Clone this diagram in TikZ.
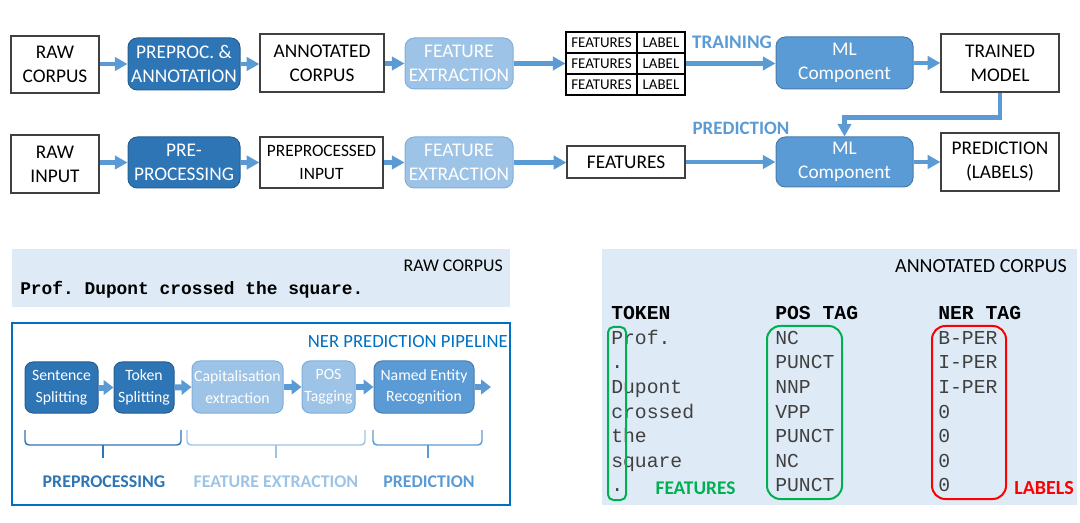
\documentclass[tikz,border=0pt]{standalone}
\usepackage{fontspec}
\setmainfont{Carlito}
\setmonofont{Liberation Mono}
\usetikzlibrary{arrows.meta,calc}
\definecolor{dblue}{HTML}{2E75B6}
\definecolor{mblue}{HTML}{5B9BD5}
\definecolor{lblue}{HTML}{9DC3E6}
\definecolor{pbg}{HTML}{DEEBF7}
\definecolor{nerc}{HTML}{0070C0}
\definecolor{grn}{HTML}{00B050}
\definecolor{txtg}{HTML}{404040}
\newcommand{\fA}{\fontsize{14.5}{18}\selectfont}
\newcommand{\fB}{\fontsize{13}{17}\selectfont}
\newcommand{\fC}{\fontsize{11.8}{16.3}\selectfont}
\newcommand{\fT}{\fontsize{11.2}{13}\selectfont}
\newcommand{\bx}[7]{\node[#1, minimum width={(#5-#3)*0.75pt}, minimum height={(#6-#4)*0.75pt}] (#2) at ({(#3+#5)/2},{(#4+#6)/2}) {#7};}
\tikzset{
  base/.style={align=center, inner sep=0pt, font=\fA},
  wbox/.style={base, draw=black!75, line width=0.9pt, fill=white},
  dbox/.style={base, rounded corners=7pt, fill=dblue, draw=dblue!80!black, line width=0.75pt, text=white},
  lbox/.style={base, rounded corners=7pt, fill=lblue, draw=lblue!75!dblue, line width=0.75pt, text=white},
  mbox/.style={base, rounded corners=7pt, fill=mblue, draw=mblue!80!black, line width=0.75pt, text=white},
  cell/.style={draw=black, line width=0.8pt, inner sep=0pt, font=\fT},
  arr/.style={line width=3.2pt, color=mblue, -{Triangle[length=9.5pt,width=10pt]}},
  parr/.style={line width=4.5pt, color=mblue, -{Triangle[length=7.5pt,width=11pt]}},
  brace/.style={line width=1.1pt, rounded corners=3pt},
  mono/.style={font=\ttfamily\fontsize{14.8}{16}\selectfont, text=txtg, inner sep=0pt, anchor=base west},
  monoh/.style={font=\ttfamily\bfseries\fontsize{14.8}{16}\selectfont, text=black, inner sep=0pt, anchor=base west},
  hilite/.style={line width=1.5pt, rounded corners=#1},
}
\begin{document}
\begin{tikzpicture}[x=0.75pt,y=-0.75pt]
\useasboundingbox (0,0) rectangle (1080,523);
% ---------- top row ----------
\bx{wbox}{rc}{11}{36}{99}{93}{RAW\\CORPUS}
\bx{dbox}{pa}{128}{38}{240}{90}{PREPROC. \&\\ANNOTATION}
\bx{wbox}{ac}{260}{34}{384}{92}{ANNOTATED\\CORPUS}
\bx{lbox}{fe1}{405}{38}{513}{89}{FEATURE\\EXTRACTION}
\bx{cell}{t11}{566}{32}{637}{53}{FEATURES}
\bx{cell}{t12}{637}{32}{685}{53}{LABEL}
\bx{cell}{t21}{566}{53}{637}{74}{FEATURES}
\bx{cell}{t22}{637}{53}{685}{74}{LABEL}
\bx{cell}{t31}{566}{74}{637}{95}{FEATURES}
\bx{cell}{t32}{637}{74}{685}{95}{LABEL}
\bx{mbox}{ml1}{776}{37}{913}{89}{ML\\Component}
\bx{wbox}{tm}{941}{34}{1059}{92}{TRAINED\\MODEL}
% ---------- second row ----------
\bx{wbox}{ri}{11}{135}{99}{193}{RAW\\INPUT}
\bx{dbox}{pp}{128}{137}{240}{188}{PRE-\\PROCESSING}
\bx{wbox,font=\fB}{pi}{260}{137}{383}{188}{PREPROCESSED\\INPUT}
\bx{lbox}{fe2}{405}{137}{513}{188}{FEATURE\\EXTRACTION}
\bx{wbox}{feat}{567}{146}{685}{178}{FEATURES}
\bx{mbox}{ml2}{776}{137}{913}{187}{ML\\Component}
\bx{wbox}{pr}{941}{133}{1059}{191}{PREDICTION\\(LABELS)}
\node[font=\bfseries\fontsize{14.4}{16}\selectfont, text=mblue, inner sep=0pt] (trn) at (732,42) {TRAINING};
\node[font=\bfseries\fontsize{14.2}{16}\selectfont, text=mblue, inner sep=0pt] (prd) at (741,128) {PREDICTION};
% arrows
\draw[arr] (rc.east |- pa.west) -- (pa.west);
\draw[arr] (pa.east) -- (pa.east -| ac.west);
\draw[arr] (fe1.west -| ac.east) -- (fe1.west);
\draw[arr] (fe1.east) -- (t21.west);
\draw[arr] (t22.east) -- (t22.east -| ml1.west);
\draw[arr] (ml1.east) -- (ml1.east -| tm.west);
\draw[arr] (ri.east |- pp.west) -- (pp.west);
\draw[arr] (pp.east) -- (pi.west);
\draw[arr] (pi.east) -- (fe2.west);
\draw[arr] (fe2.east) -- (fe2.east -| feat.west);
\draw[arr] (feat.east) -- (feat.east -| ml2.west);
\draw[arr] (ml2.east) -- (ml2.east -| pr.west);
\draw[arr] (tm.south) -- ++(0,25) -| (ml2.north);
% ---------- bottom left ----------
\bx{fill=pbg, inner sep=0pt}{rawp}{12}{249}{510}{307}{}
\node[anchor=east, font=\fontsize{13.4}{15}\selectfont, inner sep=0pt] (rawl) at (503,266) {RAW CORPUS};
\node[anchor=west, font=\ttfamily\bfseries\fontsize{13.4}{15}\selectfont, inner sep=0pt] (sent) at (20,290) {Prof. Dupont crossed the square.};
\bx{draw=nerc, line width=1.6pt, inner sep=0pt}{nerp}{12}{323}{510}{505}{}
\node[anchor=east, font=\fontsize{14}{16}\selectfont, text=nerc, inner sep=0pt] (nerl) at (508,342) {NER PREDICTION PIPELINE};
\bx{dbox,font=\fC,rounded corners=6pt}{ss}{25}{362}{98}{413}{Sentence\\Splitting}
\bx{dbox,font=\fC,rounded corners=6pt}{ts}{114}{362}{174}{413}{Token\\Splitting}
\bx{lbox,font=\fC,rounded corners=6pt}{ce}{192}{361}{283}{413}{Capitalisation\\extraction}
\bx{lbox,font=\fC,rounded corners=6pt}{pt}{302}{361}{355}{413}{POS\\Tagging}
\bx{mbox,font=\fC,rounded corners=6pt}{ner}{374}{361}{474}{413}{Named Entity\\Recognition}
\coordinate (nend) at (491,387);
\draw[parr] (ss.east) -- (ts.west);
\draw[parr] (ts.east) -- (ce.west);
\draw[parr] (ce.east) -- (pt.west);
\draw[parr] (pt.east) -- (ner.west);
\draw[parr] (ner.east) -- (nend);
% braces
\draw[brace, dblue] (25,430) -- (25,445) -- (181,445) -- (181,430);
\draw[brace, dblue] (103,445) -- (103,458);
\draw[brace, lblue] (187,430) -- (187,445) -- (365,445) -- (365,430);
\draw[brace, lblue] (276,445) -- (276,458);
\draw[brace, mblue] (373,430) -- (373,445) -- (482,445) -- (482,430);
\draw[brace, mblue] (428,445) -- (428,458);
\node[font=\bfseries\fontsize{13.4}{15}\selectfont, text=dblue, inner sep=0pt] (lpre) at (104,482) {PREPROCESSING};
\node[font=\bfseries\fontsize{13.4}{15}\selectfont, text=lblue, inner sep=0pt] (lfe) at (276,482) {FEATURE EXTRACTION};
\node[font=\bfseries\fontsize{13.4}{15}\selectfont, text=mblue, inner sep=0pt] (lpr) at (429,482) {PREDICTION};
% ---------- bottom right ----------
\bx{fill=pbg, inner sep=0pt}{annp}{602}{249}{1077}{505}{}
\node[anchor=east, font=\fontsize{15}{17}\selectfont, inner sep=0pt] (annl) at (1067,266) {ANNOTATED CORPUS};
\node[monoh] (htok) at (611,319.6) {TOKEN};
\node[monoh] (hpos) at (775,319.6) {POS TAG};
\node[monoh] (hner) at (938,319.6) {NER TAG};
\foreach \i/\tok/\pos/\ner in {1/Prof./NC/B-PER,2/./PUNCT/I-PER,3/Dupont/NNP/I-PER,4/crossed/VPP/0,5/the/PUNCT/0,6/square/NC/0,7/./PUNCT/0}{
  \node[mono] (tok\i) at (611,{319.6+24.6*\i}) {\tok};
  \node[mono] (pos\i) at (775,{319.6+24.6*\i}) {\pos};
  \node[mono] (ner\i) at (938,{319.6+24.6*\i}) {\ner};
}
\draw[hilite=4pt, grn] (608,327) rectangle (626,500);
\draw[hilite=10pt, grn] (767,326) rectangle (842,499);
\draw[hilite=10pt, red] (932,326) rectangle (1006,499);
\node[font=\bfseries\fontsize{14.5}{16}\selectfont, text=grn, inner sep=0pt] (lfeat) at (695.5,488) {FEATURES};
\node[font=\bfseries\fontsize{15}{17}\selectfont, text=red, inner sep=0pt] (llab) at (1044,488) {LABELS};
\end{tikzpicture}
\end{document}
